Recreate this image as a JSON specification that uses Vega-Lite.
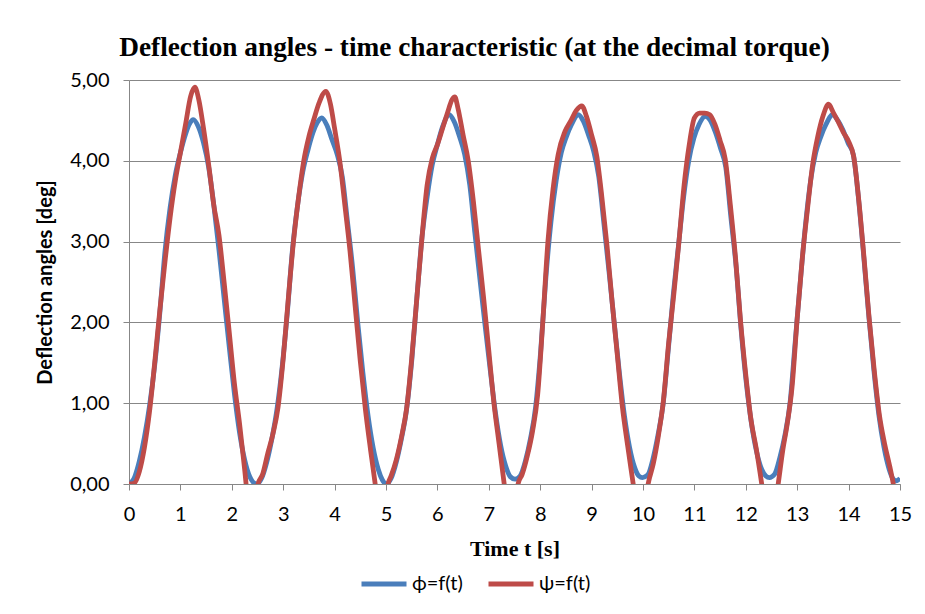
{
  "$schema": "https://vega.github.io/schema/vega-lite/v6.json",
  "autosize": {"type": "none"},
  "padding": {"left": 129, "top": 80, "right": 25, "bottom": 130},
  "width": 771,
  "height": 404,
  "background": "white",
  "title": {
    "text": "Deflection angles - time characteristic (at the decimal torque)",
    "font": "Liberation Serif",
    "fontSize": 27.3,
    "fontWeight": "bold",
    "color": "#000000",
    "anchor": "middle",
    "dx": -40,
    "baseline": "alphabetic",
    "offset": -13
  },
  "datasets": {
    "phi": [
      {"t":0,"v":0},{"t":0.1,"v":0.07},{"t":0.2,"v":0.28},{"t":0.3,"v":0.58},{"t":0.4,"v":0.97},{"t":0.5,"v":1.47},{"t":0.6,"v":2.12},{"t":0.7,"v":2.88},{"t":0.8,"v":3.42},{"t":0.9,"v":3.82},{"t":1.0,"v":4.10},{"t":1.1,"v":4.33},{"t":1.18,"v":4.46},{"t":1.25,"v":4.51},{"t":1.35,"v":4.42},{"t":1.45,"v":4.22},{"t":1.55,"v":3.92},{"t":1.65,"v":3.45},{"t":1.75,"v":2.9},{"t":1.85,"v":2.3},{"t":1.95,"v":1.7},{"t":2.05,"v":1.12},{"t":2.15,"v":0.64},{"t":2.25,"v":0.3},{"t":2.35,"v":0.09},{"t":2.48,"v":0},
      {"t":2.58,"v":0.07},{"t":2.68,"v":0.27},{"t":2.78,"v":0.56},{"t":2.88,"v":0.93},{"t":2.98,"v":1.45},{"t":3.08,"v":2.12},{"t":3.18,"v":2.9},{"t":3.28,"v":3.45},{"t":3.38,"v":3.86},{"t":3.48,"v":4.13},{"t":3.58,"v":4.35},{"t":3.66,"v":4.47},{"t":3.75,"v":4.53},{"t":3.85,"v":4.44},{"t":3.95,"v":4.26},{"t":4.05,"v":4.08},{"t":4.15,"v":3.8},{"t":4.25,"v":3.25},{"t":4.35,"v":2.68},{"t":4.45,"v":2.0},{"t":4.55,"v":1.38},{"t":4.65,"v":0.85},{"t":4.75,"v":0.45},{"t":4.85,"v":0.18},{"t":4.93,"v":0.05},{"t":5.0,"v":0},
      {"t":5.1,"v":0.07},{"t":5.2,"v":0.27},{"t":5.3,"v":0.56},{"t":5.4,"v":0.92},{"t":5.5,"v":1.52},{"t":5.6,"v":2.3},{"t":5.7,"v":3.05},{"t":5.8,"v":3.55},{"t":5.9,"v":3.95},{"t":6.0,"v":4.2},{"t":6.1,"v":4.42},{"t":6.23,"v":4.57},{"t":6.33,"v":4.48},{"t":6.43,"v":4.3},{"t":6.53,"v":4.08},{"t":6.63,"v":3.7},{"t":6.73,"v":3.1},{"t":6.83,"v":2.52},{"t":6.93,"v":1.95},{"t":7.03,"v":1.4},{"t":7.13,"v":0.88},{"t":7.23,"v":0.48},{"t":7.33,"v":0.22},{"t":7.42,"v":0.09},{"t":7.51,"v":0.06},
      {"t":7.61,"v":0.1},{"t":7.71,"v":0.28},{"t":7.81,"v":0.56},{"t":7.91,"v":0.95},{"t":8.01,"v":1.65},{"t":8.11,"v":2.55},{"t":8.21,"v":3.25},{"t":8.31,"v":3.75},{"t":8.41,"v":4.1},{"t":8.51,"v":4.3},{"t":8.61,"v":4.45},{"t":8.74,"v":4.57},{"t":8.84,"v":4.49},{"t":8.94,"v":4.32},{"t":9.04,"v":4.12},{"t":9.14,"v":3.8},{"t":9.24,"v":3.22},{"t":9.34,"v":2.62},{"t":9.44,"v":2.0},{"t":9.54,"v":1.38},{"t":9.64,"v":0.84},{"t":9.74,"v":0.45},{"t":9.84,"v":0.2},{"t":9.92,"v":0.1},{"t":9.99,"v":0.08},
      {"t":10.09,"v":0.11},{"t":10.19,"v":0.3},{"t":10.29,"v":0.6},{"t":10.39,"v":0.98},{"t":10.49,"v":1.65},{"t":10.59,"v":2.35},{"t":10.69,"v":2.95},{"t":10.79,"v":3.55},{"t":10.89,"v":4.0},{"t":10.99,"v":4.28},{"t":11.09,"v":4.45},{"t":11.21,"v":4.55},{"t":11.31,"v":4.5},{"t":11.41,"v":4.35},{"t":11.51,"v":4.15},{"t":11.61,"v":3.92},{"t":11.71,"v":3.3},{"t":11.81,"v":2.7},{"t":11.91,"v":1.9},{"t":12.01,"v":1.25},{"t":12.11,"v":0.75},{"t":12.21,"v":0.4},{"t":12.31,"v":0.18},{"t":12.39,"v":0.1},{"t":12.46,"v":0.08},
      {"t":12.56,"v":0.12},{"t":12.66,"v":0.32},{"t":12.76,"v":0.6},{"t":12.86,"v":1.0},{"t":12.96,"v":1.75},{"t":13.06,"v":2.5},{"t":13.16,"v":3.2},{"t":13.26,"v":3.75},{"t":13.36,"v":4.1},{"t":13.46,"v":4.3},{"t":13.56,"v":4.45},{"t":13.69,"v":4.57},{"t":13.79,"v":4.5},{"t":13.89,"v":4.38},{"t":13.99,"v":4.22},{"t":14.09,"v":4.08},{"t":14.19,"v":3.55},{"t":14.29,"v":2.85},{"t":14.39,"v":2.1},{"t":14.49,"v":1.42},{"t":14.59,"v":0.85},{"t":14.69,"v":0.45},{"t":14.79,"v":0.18},{"t":14.87,"v":0.06},{"t":14.93,"v":0.04},{"t":15.0,"v":0.07}
    ],
    "psi": [
      {"t":0,"v":0},{"t":0.1,"v":0.01},{"t":0.2,"v":0.15},{"t":0.3,"v":0.45},{"t":0.4,"v":0.9},{"t":0.5,"v":1.5},{"t":0.6,"v":2.15},{"t":0.7,"v":2.75},{"t":0.8,"v":3.3},{"t":0.9,"v":3.75},{"t":1.0,"v":4.1},{"t":1.1,"v":4.45},{"t":1.2,"v":4.8},{"t":1.28,"v":4.91},{"t":1.36,"v":4.75},{"t":1.45,"v":4.4},{"t":1.55,"v":3.95},{"t":1.65,"v":3.45},{"t":1.75,"v":3.08},{"t":1.85,"v":2.5},{"t":1.95,"v":1.88},{"t":2.05,"v":1.25},{"t":2.15,"v":0.75},{"t":2.25,"v":0.18},{"t":2.35,"v":-0.4},{"t":2.43,"v":-0.5},{"t":2.51,"v":0},
      {"t":2.6,"v":0.12},{"t":2.7,"v":0.38},{"t":2.8,"v":0.62},{"t":2.9,"v":0.95},{"t":3.0,"v":1.55},{"t":3.1,"v":2.3},{"t":3.2,"v":3.0},{"t":3.3,"v":3.55},{"t":3.4,"v":4.0},{"t":3.5,"v":4.3},{"t":3.6,"v":4.52},{"t":3.7,"v":4.72},{"t":3.83,"v":4.86},{"t":3.92,"v":4.7},{"t":4.0,"v":4.4},{"t":4.1,"v":4.0},{"t":4.2,"v":3.45},{"t":4.3,"v":2.88},{"t":4.4,"v":2.2},{"t":4.5,"v":1.52},{"t":4.6,"v":0.92},{"t":4.7,"v":0.42},{"t":4.79,"v":0},{"t":4.86,"v":-0.35},{"t":4.96,"v":-0.4},{"t":5.04,"v":0},
      {"t":5.1,"v":0.1},{"t":5.2,"v":0.3},{"t":5.3,"v":0.58},{"t":5.4,"v":0.93},{"t":5.5,"v":1.55},{"t":5.6,"v":2.3},{"t":5.7,"v":3.05},{"t":5.8,"v":3.7},{"t":5.9,"v":4.03},{"t":6.0,"v":4.2},{"t":6.1,"v":4.4},{"t":6.2,"v":4.6},{"t":6.28,"v":4.75},{"t":6.34,"v":4.79},{"t":6.4,"v":4.65},{"t":6.5,"v":4.32},{"t":6.6,"v":4.0},{"t":6.7,"v":3.5},{"t":6.8,"v":2.9},{"t":6.9,"v":2.3},{"t":7.0,"v":1.65},{"t":7.1,"v":1.0},{"t":7.2,"v":0.5},{"t":7.3,"v":0},{"t":7.4,"v":-0.45},{"t":7.5,"v":-0.4},{"t":7.57,"v":0},
      {"t":7.65,"v":0.12},{"t":7.75,"v":0.35},{"t":7.85,"v":0.65},{"t":7.95,"v":1.1},{"t":8.05,"v":2.0},{"t":8.15,"v":3.0},{"t":8.25,"v":3.65},{"t":8.35,"v":4.08},{"t":8.48,"v":4.36},{"t":8.6,"v":4.5},{"t":8.7,"v":4.62},{"t":8.81,"v":4.68},{"t":8.9,"v":4.55},{"t":9.0,"v":4.32},{"t":9.1,"v":4.06},{"t":9.2,"v":3.55},{"t":9.3,"v":2.95},{"t":9.4,"v":2.25},{"t":9.5,"v":1.6},{"t":9.6,"v":0.95},{"t":9.7,"v":0.48},{"t":9.81,"v":0},{"t":9.9,"v":-0.4},{"t":10.0,"v":-0.45},{"t":10.1,"v":0},
      {"t":10.2,"v":0.25},{"t":10.3,"v":0.6},{"t":10.4,"v":1.05},{"t":10.5,"v":1.75},{"t":10.6,"v":2.35},{"t":10.7,"v":3.0},{"t":10.8,"v":3.7},{"t":10.9,"v":4.2},{"t":11.0,"v":4.53},{"t":11.1,"v":4.59},{"t":11.2,"v":4.59},{"t":11.3,"v":4.57},{"t":11.4,"v":4.45},{"t":11.5,"v":4.25},{"t":11.6,"v":4.02},{"t":11.7,"v":3.45},{"t":11.8,"v":2.8},{"t":11.9,"v":2.0},{"t":12.0,"v":1.35},{"t":12.1,"v":0.8},{"t":12.2,"v":0.45},{"t":12.31,"v":0},{"t":12.4,"v":-0.4},{"t":12.52,"v":-0.45},{"t":12.63,"v":0},
      {"t":12.72,"v":0.42},{"t":12.8,"v":0.72},{"t":12.9,"v":1.2},{"t":13.0,"v":2.05},{"t":13.1,"v":2.8},{"t":13.2,"v":3.4},{"t":13.3,"v":3.95},{"t":13.4,"v":4.3},{"t":13.5,"v":4.55},{"t":13.61,"v":4.7},{"t":13.7,"v":4.6},{"t":13.8,"v":4.48},{"t":13.9,"v":4.35},{"t":14.0,"v":4.24},{"t":14.1,"v":4.05},{"t":14.2,"v":3.5},{"t":14.3,"v":2.8},{"t":14.4,"v":2.05},{"t":14.5,"v":1.4},{"t":14.6,"v":0.85},{"t":14.7,"v":0.5},{"t":14.8,"v":0.22},{"t":14.87,"v":0},{"t":14.95,"v":-0.3},{"t":15.0,"v":-0.4}
    ]
  },
  "encoding": {
    "x": {
      "field": "t", "type": "quantitative",
      "scale": {"domain": [0, 15], "nice": false, "zero": false},
      "axis": {
        "title": "Time t [s]",
        "values": [0,1,2,3,4,5,6,7,8,9,10,11,12,13,14,15],
        "grid": false,
        "domainColor": "#878787", "tickColor": "#878787", "tickSize": 6,
        "labelFont": "Lato", "labelFontSize": 20, "labelColor": "#000000", "labelPadding": 14,
        "labelFlush": false,
        "titleFont": "Liberation Serif", "titleFontSize": 22, "titleFontWeight": "bold", "titleColor": "#000000", "titlePadding": 14
      }
    },
    "y": {
      "field": "v", "type": "quantitative",
      "scale": {"domain": [0, 5], "nice": false},
      "axis": {
        "title": "Deflection angles [deg]",
        "values": [0,1,2,3,4,5],
        "labelExpr": "replace(format(datum.value, '.2f'), '.', ',')",
        "grid": true, "gridColor": "#878787", "gridWidth": 1,
        "domainColor": "#878787", "tickColor": "#878787", "tickSize": 6,
        "labelFont": "Lato", "labelFontSize": 20, "labelColor": "#000000", "labelPadding": 14,
        "titleFont": "Lato", "titleFontSize": 20, "titleFontWeight": "bold", "titleColor": "#000000", "titlePadding": 14
      }
    }
  },
  "layer": [
    {
      "data": {"name": "phi"},
      "mark": {"type": "line", "interpolate": "monotone", "strokeWidth": 4.8, "clip": true},
      "encoding": {"color": {"datum": "ϕ=f(t)", "type": "nominal",
        "scale": {"domain": ["ϕ=f(t)", "ψ=f(t)"], "range": ["#4a7ebb", "#be4b48"]},
        "legend": {
          "title": null, "orient": "none", "legendX": 230, "legendY": 479,
          "direction": "horizontal", "columns": 2,
          "symbolType": "stroke", "symbolSize": 2025, "symbolStrokeWidth": 5,
          "labelFont": "Lato", "labelFontSize": 20, "labelColor": "#000000",
          "labelOffset": 3, "columnPadding": 15
        }}}
    },
    {
      "data": {"name": "psi"},
      "mark": {"type": "line", "interpolate": "monotone", "strokeWidth": 4.8, "clip": true},
      "encoding": {"color": {"datum": "ψ=f(t)", "type": "nominal"}}
    }
  ],
  "config": {"view": {"stroke": null}, "axis": {"domainWidth": 1, "tickWidth": 1}}
}
